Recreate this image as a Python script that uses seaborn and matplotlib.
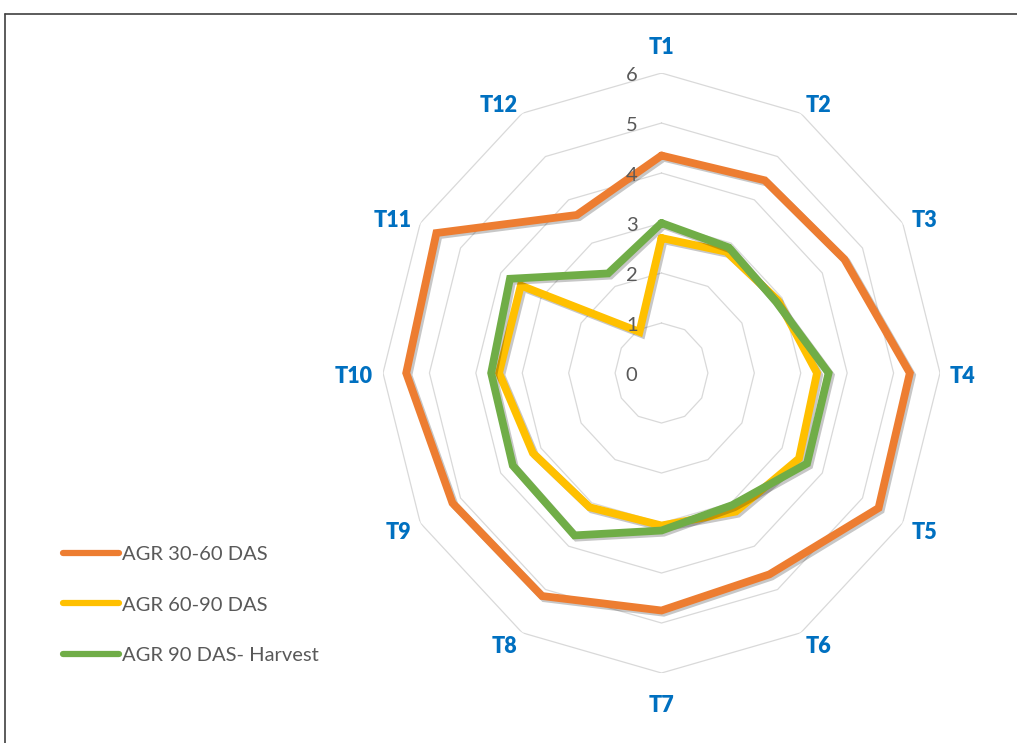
import numpy as np
import pandas as pd
import matplotlib
matplotlib.use("Agg")
import matplotlib.pyplot as plt
import matplotlib.patheffects as pe
from matplotlib.lines import Line2D
import seaborn as sns

# Treatments around the radar
categories = ["T1", "T2", "T3", "T4", "T5", "T6", "T7", "T8", "T9", "T10", "T11", "T12"]

# Absolute growth rate per treatment for each growth stage
agr_30_60 = [4.35, 4.45, 4.55, 5.35, 5.40, 4.65, 4.75, 5.15, 5.20, 5.50, 5.60, 3.65]
agr_60_90 = [2.70, 2.80, 2.90, 3.35, 3.42, 3.20, 3.05, 3.10, 3.20, 3.50, 3.50, 0.95]
agr_90_harvest = [3.00, 2.90, 2.85, 3.60, 3.62, 3.05, 3.15, 3.75, 3.70, 3.67, 3.77, 2.30]

series_names = ["AGR 30-60 DAS", "AGR 60-90 DAS", "AGR 90 DAS- Harvest"]
series_values = [agr_30_60, agr_60_90, agr_90_harvest]
series_colors = ["#ED7D31", "#FFC000", "#70AD47"]

radial_ticks = [0, 1, 2, 3, 4, 5, 6]

sns.set_style("white")
plt.rcParams["font.family"] = ["Lato", "DejaVu Sans"]

n = len(categories)
theta = np.linspace(0, 2 * np.pi, n, endpoint=False)
theta_closed = np.append(theta, theta[0] + 2 * np.pi)

# Long-form table, each polygon closed back on its first treatment
rows = []
for name, vals in zip(series_names, series_values):
    closed = list(vals) + [vals[0]]
    for k, (t, v) in enumerate(zip(theta_closed, closed)):
        rows.append({"series": name, "theta": t, "value": v, "order": k})
df = pd.DataFrame(rows)

fig = plt.figure(figsize=(10.17, 7.43), dpi=100)
fig.patch.set_facecolor("white")

ax = fig.add_axes([0.3766, 0.0942, 0.5477, 0.8075], projection="polar")
ax.set_aspect("auto")
ax.set_theta_offset(np.pi / 2)
ax.set_theta_direction(-1)
ax.set_ylim(0, radial_ticks[-1])
ax.grid(False)
ax.spines["polar"].set_visible(False)
ax.set_xticks([])
ax.set_yticks([])
ax.set_facecolor("none")

# Polygonal gridlines at each radial tick
for r in radial_ticks[1:]:
    ax.plot(theta_closed, [r] * len(theta_closed), color="#D9D9D9", lw=0.9, zorder=1)

shadow = [pe.SimpleLineShadow(offset=(1.6, -1.6), shadow_color="black", alpha=0.22),
          pe.Normal()]

sns.lineplot(data=df, x="theta", y="value", hue="series", palette=series_colors,
             hue_order=series_names, sort=False, estimator=None, units="series",
             lw=5.6, legend=False, ax=ax, solid_joinstyle="miter",
             path_effects=shadow, zorder=3)
ax.set_xlabel("")
ax.set_ylabel("")

# Radial tick labels on the upward axis
for r in radial_ticks:
    ax.annotate(str(r), xy=(0, r), xytext=(-24, -2), textcoords="offset pixels",
                ha="right", va="center", fontsize=14.5, color="#595959", zorder=4)

# Treatment labels just outside the outer ring
r_max = radial_ticks[-1]
for t, lab in zip(theta, categories):
    s, c = np.sin(t), np.cos(t)
    if abs(s) < 1e-6:
        ha, off = "center", (0, 29 * np.sign(c) - 3)
    else:
        ha = "left" if s > 0 else "right"
        off = (10 * s, 12 * c - 3)
    ax.annotate(lab, xy=(t, r_max), xytext=off, textcoords="offset pixels",
                ha=ha, va="center", fontsize=15.5, fontweight="heavy",
                color="#0070C0")

handles = [Line2D([0], [0], color=c, lw=4.5, solid_capstyle="round") for c in series_colors]
fig.legend(handles, series_names, loc="upper left", bbox_to_anchor=(0.062, 0.265),
           frameon=False, fontsize=14.5, handlelength=2.8, handletextpad=0.15,
           labelspacing=1.65, borderpad=0, borderaxespad=0, labelcolor="#595959")

# Frame edges
fig.add_artist(Line2D([5 / 1017, 1], [1 - 14 / 743, 1 - 14 / 743],
                      transform=fig.transFigure, color="#404040", lw=1.2))
fig.add_artist(Line2D([5 / 1017, 5 / 1017], [0, 1 - 14 / 743],
                      transform=fig.transFigure, color="#404040", lw=1.2))

fig.savefig("out.png", dpi=100, facecolor="white")
